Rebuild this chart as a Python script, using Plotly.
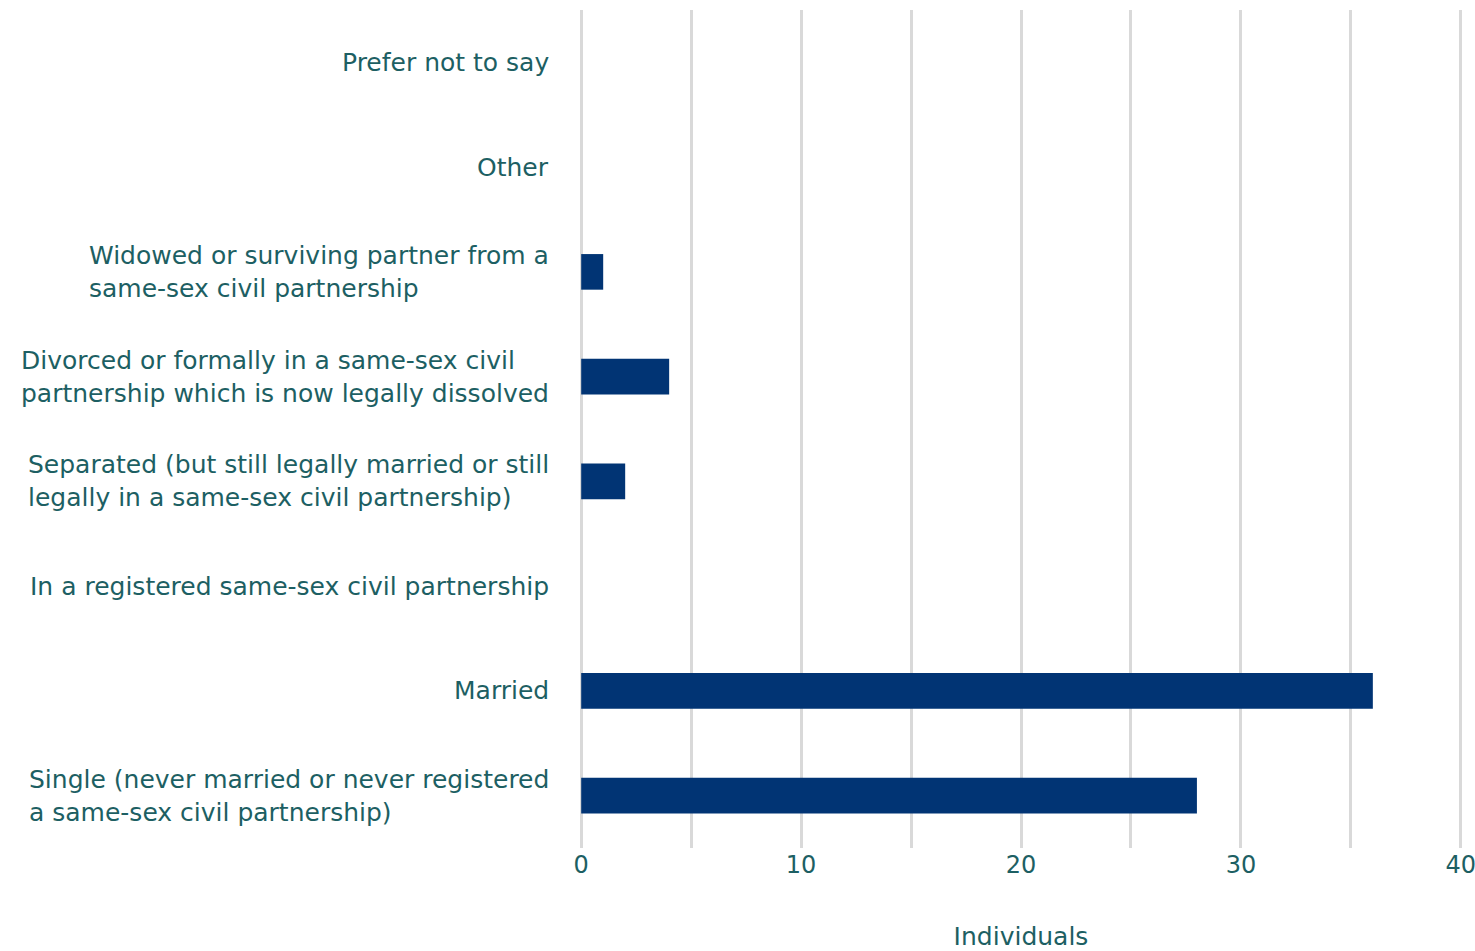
import plotly.graph_objects as go

categories = [
    "Single (never married or never registered<br>a same-sex civil partnership)",
    "Married",
    "In a registered same-sex civil partnership",
    "Separated (but still legally married or still<br>legally in a same-sex civil partnership)",
    "Divorced or formally in a same-sex civil<br>partnership which is now legally dissolved",
    "Widowed or surviving partner from a<br>same-sex civil partnership",
    "Other",
    "Prefer not to say",
]
values = [28, 36, 0, 2, 4, 1, 0, 0]
x_tickvals = [0, 5, 10, 15, 20, 25, 30, 35, 40]
x_ticktext = ["0", "", "10", "", "20", "", "30", "", "40"]

TEXT = "#1d5f63"
BAR = "#013474"
FONT = "DejaVu Sans"

fig = go.Figure()
fig.add_trace(go.Bar(
    x=values, y=list(range(len(categories))), orientation="h",
    marker=dict(color=BAR, line=dict(width=0)), width=0.34,
    hoverinfo="skip",
))

for i, c in enumerate(categories):
    fig.add_annotation(
        x=0, xref="paper", y=i, yref="y", text=c, showarrow=False,
        xanchor="right", align="left", xshift=-28,
        font=dict(family=FONT, size=25, color=TEXT),
    )

fig.update_layout(
    width=1475, height=951, autosize=False,
    margin=dict(l=579, r=12, t=10, b=103),
    plot_bgcolor="white", paper_bgcolor="white",
    showlegend=False,
    font=dict(family=FONT, color=TEXT, size=23),
    xaxis=dict(
        range=[-0.1, 40.1], tickvals=x_tickvals, ticktext=x_ticktext,
        showgrid=True, gridcolor="#d9d9d9", gridwidth=3, zeroline=False,
        showline=False, ticks="", tickfont=dict(size=24, color=TEXT),
        ticklabeloverflow="allow", automargin=False,
        title=dict(text="Individuals", font=dict(size=25, color=TEXT), standoff=60),
        fixedrange=True,
    ),
    yaxis=dict(
        range=[-0.5, len(categories) - 0.5], showticklabels=False,
        showgrid=False, zeroline=False, showline=False, ticks="",
        automargin=False, fixedrange=True,
    ),
)

fig.write_html("out.html", config={"displayModeBar": False},
               post_script="document.body.style.margin='0';")
